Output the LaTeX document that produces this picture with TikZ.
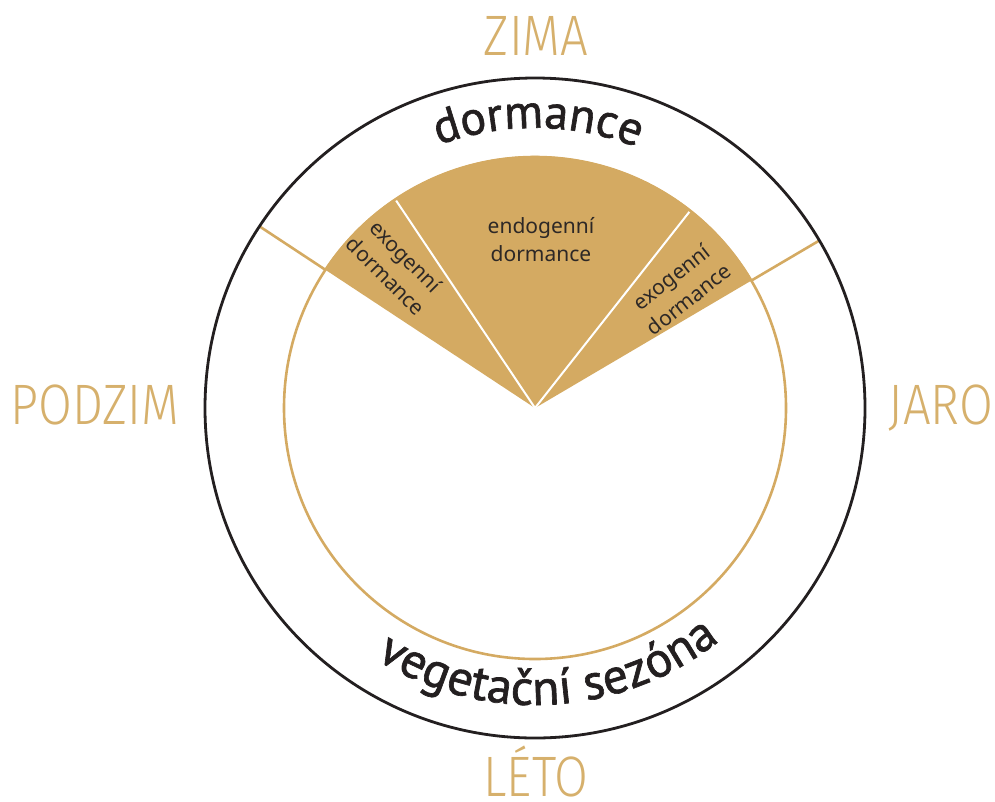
\documentclass[tikz,border=0pt]{standalone}
\usepackage{fontspec}
\setmainfont{PT Sans}[FakeBold=1.3]
\newfontfamily\lightfont{Fira Sans Light}[FakeStretch=0.86]
\newfontfamily\smallfont{Noto Sans}
\usetikzlibrary{decorations.text}
\definecolor{gold}{RGB}{212,170,98}
\definecolor{goldtext}{RGB}{214,176,108}
\definecolor{ink}{RGB}{35,31,32}
\definecolor{smallink}{RGB}{45,40,38}
\tikzset{
  season/.style={font=\lightfont\fontsize{57}{57}\selectfont, text=goldtext, inner sep=0pt, anchor=base},
  smalltext/.style={font=\smallfont\fontsize{21}{28}\selectfont, text=smallink, align=center, inner sep=0pt},
  goldline/.style={draw=gold, line width=2.6pt},
  divider/.style={draw=white, line width=2pt}
}
\begin{document}
\begin{tikzpicture}[x=1pt,y=1pt]
\useasboundingbox (0,0) rectangle (995,-801);
\begin{scope}[shift={(535,-408)}]
  \fill[gold] (0,0) -- (30.5:252) arc[start angle=30.5, end angle=146.6, radius=252] -- cycle;
  \draw[divider] (0,0) -- (51.8:252);
  \draw[divider] (0,0) -- (123.8:252);
  \draw[goldline] (0,0) circle[radius=251];
  \draw[goldline] (30.5:251) -- (30.5:330);
  \draw[goldline] (146.6:251) -- (146.6:330);
  \draw[draw=ink, line width=2.8pt] (0,0) circle[radius=330];
  \path[decorate, decoration={text along path, text align=center, text color=ink,
      text={|\fontsize{48}{48}\selectfont|dormance}}]
      (111:280) arc[start angle=111, end angle=67.7, radius=280];
  \path[decorate, decoration={text along path, text align=center, text color=ink,
      text={|\fontsize{50}{50}\selectfont|vegetační sezóna}}]
      (233:297) arc[start angle=233, end angle=313, radius=297];
\end{scope}
\node[season] (zima) at (536,-55) {ZIMA};
\node[season] (podzim) at (95,-424) {PODZIM};
\node[season] (jaro) at (941,-424) {JARO};
\node[season] (leto) at (536,-796) {LÉTO};
\node[smalltext] (endo) at (541,-240) {endogenní\\dormance};
\node[smalltext, rotate=-45] (exoL) at (396,-266) {exogenní\\dormance};
\node[smalltext, rotate=38] (exoR) at (680,-288) {exogenní\\dormance};
\end{tikzpicture}
\end{document}
